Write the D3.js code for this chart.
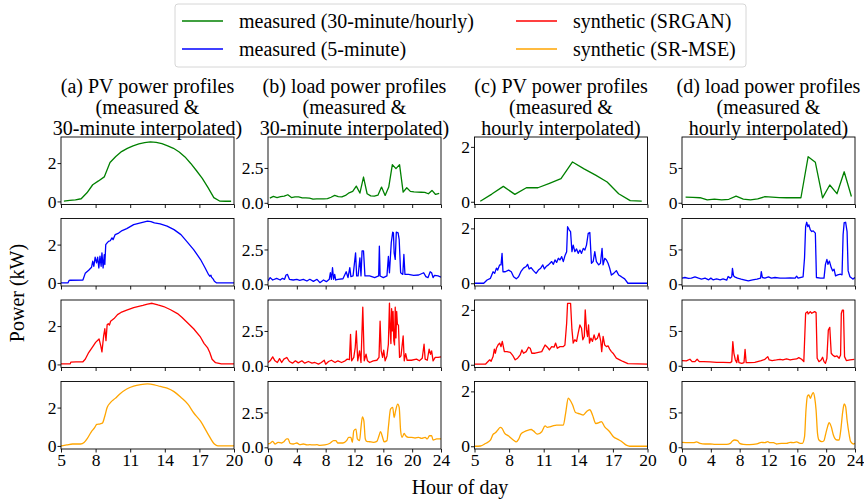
<!DOCTYPE html>
<html><head><meta charset="utf-8">
<script src="https://cdn.jsdelivr.net/npm/d3@7"></script>
<style>
body{margin:0;background:#fff}
svg{display:block}
text{font-family:"Liberation Serif","Times New Roman",serif;fill:#000}
</style>
</head><body>
<svg id="c" width="864" height="499"></svg>
<script>
// ---------- DATA ([hour, kW]) ----------
const legendLabels = ["measured (30-minute/hourly)", "measured (5-minute)", "synthetic (SRGAN)", "synthetic (SR-MSE)"];
const seriesColors = ["#008000", "#0000ff", "#ff0000", "#ffa500"];
const columnTitles = [
  ["(a) PV power profiles", "(measured &", "30-minute interpolated)"],
  ["(b) load power profiles", "(measured &", "30-minute interpolated)"],
  ["(c) PV power profiles", "(measured &", "hourly interpolated)"],
  ["(d) load power profiles", "(measured &", "hourly interpolated)"]
];
const pvHourTicks = [5, 8, 11, 14, 17, 20];
const loadHourTicks = [0, 4, 8, 12, 16, 20, 24];
const pvATicksY = [0, 2];
const loadBTicksY = [0, 2.5];
const pvCTicksY = [0, 2];
const loadDTicksY = [0, 5];

// (a) PV, 30-minute
const pvA_meas30 = [[5.25,0.02],[5.75,0.05],[6.25,0.08],[6.75,0.14],[7.25,0.45],[7.75,0.87],[8.25,1.07],[8.75,1.28],[9.25,2.03],[9.75,2.34],[10.25,2.6],[10.75,2.77],[11.25,2.9],[11.75,3.0],[12.25,3.07],[12.75,3.11],[13.25,3.08],[13.75,3.01],[14.25,2.9],[14.75,2.77],[15.25,2.58],[15.75,2.32],[16.25,1.98],[16.75,1.6],[17.25,1.2],[17.75,0.72],[18.25,0.2],[18.75,0.02],[19.25,0.01],[19.75,0.01]];
const pvA_meas5 = [[5,0],[5.6,0],[5.7,0.13],[5.8,0.14],[6.9,0.15],[7.1,0.5],[7.4,0.66],[7.65,0.82],[7.75,1.13],[7.85,0.87],[7.96,1.34],[8.08,1.05],[8.18,1.34],[8.28,0.78],[8.38,1.4],[8.48,0.87],[8.55,1.57],[8.65,0.78],[8.75,1.47],[8.8,0.96],[8.88,2.0],[9.0,2.09],[9.12,2.17],[9.27,2.2],[9.42,2.35],[9.52,2.26],[9.7,2.52],[10.0,2.6],[10.3,2.73],[10.7,2.83],[11.3,3.04],[11.9,3.13],[12.5,3.22],[12.8,3.2],[13.1,3.13],[13.6,3.08],[14.2,2.96],[14.8,2.78],[15.4,2.52],[15.9,2.17],[16.5,1.74],[17.1,1.22],[17.5,0.78],[17.8,0.43],[17.9,0.35],[18.0,0.4],[18.05,0.3],[18.2,0.2],[18.3,0.09],[18.5,0],[20,0]];
const pvA_srgan = [[5,0.03],[5.8,0.03],[5.85,0.12],[6.3,0.13],[6.9,0.14],[7.1,0.27],[7.4,0.62],[7.8,0.97],[8.0,1.15],[8.3,1.33],[8.45,0.97],[8.55,0.65],[8.7,1.5],[8.8,1.86],[8.9,1.24],[9.0,2.07],[9.1,2.12],[9.2,2.05],[9.3,2.25],[9.6,2.39],[9.9,2.6],[10.2,2.71],[10.7,2.83],[11.3,2.96],[12.1,3.08],[12.5,3.15],[12.9,3.19],[13.4,3.1],[13.9,3.02],[14.5,2.85],[15.1,2.65],[15.5,2.45],[15.9,2.21],[16.5,1.86],[17.1,1.42],[17.4,1.1],[17.7,0.88],[17.9,0.62],[18.1,0.27],[18.4,0.09],[18.9,0.03],[20,0.03]];
const pvA_srmse = [[5,0],[5.5,0.05],[6,0.1],[6.7,0.1],[7,0.18],[7.3,0.41],[7.6,0.71],[7.9,0.94],[8.1,1.12],[8.4,1.15],[8.6,1.2],[8.8,1.56],[9.0,2.0],[9.3,2.27],[9.7,2.48],[10.1,2.71],[10.7,2.97],[11.3,3.12],[11.9,3.2],[12.5,3.24],[13.1,3.19],[13.6,3.1],[14.2,3.01],[14.8,2.83],[15.4,2.53],[16.0,2.18],[16.5,1.73],[17.1,1.29],[17.7,0.67],[18.3,0.1],[18.6,0],[20,0]];

// (b) load, 30-minute
const loadB_meas30 = [[0.25,0.34],[0.75,0.46],[1.25,0.38],[1.75,0.44],[2.25,0.48],[2.75,0.58],[3.25,0.38],[3.75,0.42],[4.25,0.43],[4.75,0.36],[5.25,0.35],[5.75,0.33],[6.25,0.26],[6.75,0.29],[7.25,0.28],[7.75,0.29],[8.25,0.3],[8.75,0.4],[9.25,0.53],[9.75,0.45],[10.25,0.42],[10.75,0.53],[11.25,0.72],[11.75,0.82],[12.25,1.2],[12.75,0.7],[13.25,1.85],[13.75,0.65],[14.25,0.5],[14.75,0.48],[15.25,0.55],[15.75,1.13],[16.25,0.53],[16.75,1.13],[17.25,2.74],[17.75,2.45],[18.25,2.74],[18.75,0.77],[19.25,1.08],[19.75,0.82],[20.25,0.78],[20.75,0.77],[21.25,0.76],[21.75,0.75],[22.25,0.65],[22.75,0.89],[23.25,0.6],[23.75,0.67]];
const loadB_meas5 = [[0,0.24],[0.3,0.48],[0.65,0.31],[1.2,0.43],[1.7,0.31],[2.0,0.43],[2.3,0.36],[2.5,0.67],[2.7,0.71],[2.97,0.36],[3.5,0.31],[4.0,0.36],[4.4,0.29],[4.9,0.36],[5.4,0.24],[5.8,0.36],[6.3,0.21],[6.8,0.36],[7.2,0.12],[7.7,0.31],[8.1,0.19],[8.5,0.36],[8.65,0.83],[8.8,0.36],[8.95,1.19],[9.1,0.36],[9.25,0.71],[9.4,0.31],[9.7,0.36],[10.4,0.4],[10.85,0.9],[11.1,0.48],[11.35,1.19],[11.5,0.55],[11.8,0.6],[12.15,2.26],[12.3,0.6],[12.5,0.6],[12.75,1.9],[12.9,0.6],[13.05,2.4],[13.25,2.4],[13.45,0.6],[14.1,0.6],[14.8,0.48],[15.35,0.6],[15.45,2.74],[15.55,0.6],[16.0,0.48],[16.5,0.6],[16.7,2.0],[16.85,0.83],[17.1,2.98],[17.3,3.74],[17.4,3.7],[17.5,2.26],[17.65,1.79],[17.8,3.74],[18.05,3.69],[18.2,3.2],[18.4,0.83],[18.7,0.71],[18.85,2.14],[19.0,0.71],[19.5,0.71],[20.2,0.64],[20.9,0.67],[21.6,0.83],[21.9,0.55],[22.2,0.48],[22.5,0.9],[22.7,0.83],[22.9,0.48],[23.1,0.64],[23.6,0.6],[24,0.52]];
const loadB_srgan = [[0,0.24],[0.3,0.36],[0.65,0.64],[0.97,0.36],[1.3,0.24],[1.6,0.52],[1.9,0.24],[2.2,0.48],[2.6,0.6],[2.97,0.31],[3.4,0.19],[3.8,0.36],[4.2,0.21],[4.7,0.36],[5.1,0.19],[5.6,0.31],[6.1,0.19],[6.5,0.24],[7.0,0.12],[7.4,0.24],[7.8,0.4],[8.0,0.12],[8.4,0.31],[8.8,0.4],[9.3,0.24],[9.7,0.36],[10.2,0.24],[10.7,0.36],[11.0,0.48],[11.3,0.45],[11.45,2.26],[11.6,0.36],[11.9,0.6],[12.1,1.31],[12.25,2.5],[12.45,0.36],[12.7,1.07],[12.9,0.24],[13.15,4.2],[13.35,0.36],[13.6,0.83],[13.8,0.36],[14.1,0.24],[14.6,0.36],[15.1,0.4],[15.4,0.6],[15.55,3.2],[15.7,1.07],[15.9,0.6],[16.05,1.12],[16.25,0.36],[16.5,0.71],[16.7,1.55],[16.85,4.5],[16.95,2.6],[17.05,1.6],[17.15,4.1],[17.25,2.5],[17.35,3.9],[17.45,1.8],[17.55,1.5],[17.65,4.2],[17.75,2.0],[17.85,3.9],[17.95,3.0],[18.1,2.9],[18.25,0.6],[18.45,0.71],[18.75,2.14],[18.9,0.36],[19.1,0.88],[19.3,0.4],[19.9,0.4],[20.6,0.48],[21.0,0.36],[21.4,0.55],[21.65,1.55],[21.8,0.48],[22.1,0.4],[22.35,1.19],[22.55,0.83],[22.7,1.07],[22.9,0.36],[23.2,0.6],[23.6,0.6],[24,0.64]];
const loadB_srmse = [[0,0.24],[0.3,0.29],[0.65,0.43],[0.97,0.24],[1.4,0.36],[1.9,0.31],[2.2,0.4],[2.6,0.6],[2.8,0.6],[3.05,0.29],[3.5,0.24],[4.0,0.31],[4.4,0.19],[4.9,0.24],[5.4,0.17],[5.8,0.19],[6.3,0.17],[6.8,0.19],[7.2,0.14],[7.9,0.17],[8.6,0.29],[9.1,0.48],[9.4,0.48],[9.7,0.31],[10.4,0.31],[10.9,0.48],[11.2,0.71],[11.5,0.71],[11.7,0.36],[11.9,1.19],[12.2,1.31],[12.4,0.6],[12.7,0.48],[12.9,1.43],[13.1,2.19],[13.3,1.9],[13.5,0.6],[13.7,0.43],[14.1,0.4],[14.6,0.36],[15.1,0.43],[15.4,0.83],[15.6,1.12],[15.9,0.71],[16.1,0.4],[16.5,0.48],[16.7,1.43],[17.0,2.74],[17.3,2.86],[17.5,2.14],[17.7,2.62],[18.0,3.1],[18.2,2.86],[18.4,1.19],[18.6,0.71],[18.9,1.0],[19.1,0.83],[19.5,0.71],[19.9,0.71],[20.4,0.67],[20.9,0.71],[21.3,0.64],[21.8,0.71],[22.1,0.6],[22.4,0.83],[22.7,0.83],[22.9,0.52],[23.4,0.6],[24,0.6]];

// (c) PV, hourly
const pvC_measH = [[5.5,0.02],[6.5,0.28],[7.5,0.56],[8.5,0.27],[9.5,0.51],[10.5,0.51],[11.5,0.67],[12.5,0.84],[13.5,1.45],[14.5,1.2],[15.5,0.97],[16.5,0.72],[17.5,0.29],[18.5,0.04],[19.5,0.02]];
const pvC_meas5 = [[5,0],[5.8,0],[6.09,0.12],[6.38,0.18],[6.61,0.42],[6.75,0.36],[6.9,0.55],[7.01,0.48],[7.18,0.67],[7.3,0.67],[7.39,1.09],[7.47,0.42],[7.67,0.42],[7.96,0.48],[8.19,0.42],[8.39,0.24],[8.62,0.16],[8.82,0.24],[9.02,0.42],[9.25,0.55],[9.48,0.61],[9.6,0.69],[9.74,0.52],[9.91,0.57],[10.11,0.46],[10.34,0.36],[10.54,0.48],[10.74,0.55],[10.92,0.67],[11.06,0.52],[11.21,0.61],[11.41,0.67],[11.55,0.73],[11.69,0.79],[11.84,0.69],[11.98,0.85],[12.12,0.76],[12.27,0.91],[12.41,0.85],[12.56,0.97],[12.7,0.79],[12.84,1.0],[12.99,1.15],[13.07,2.06],[13.22,1.94],[13.33,1.88],[13.45,1.15],[13.56,1.39],[13.7,1.15],[13.85,1.25],[13.99,1.09],[14.14,1.21],[14.28,1.09],[14.43,1.27],[14.57,1.21],[14.71,1.39],[14.86,1.82],[15.0,1.85],[15.14,0.73],[15.29,0.79],[15.43,1.15],[15.57,0.79],[15.77,0.67],[15.92,0.73],[16.06,1.27],[16.15,0.67],[16.29,0.91],[16.44,0.85],[16.58,0.73],[16.72,0.55],[16.87,0.3],[17.07,0.36],[17.3,0.46],[17.5,0.3],[17.73,0.24],[18.02,0.16],[18.3,0],[20,0]];
const pvC_srgan = [[5,0.02],[5.95,0.02],[6.09,0.08],[6.32,0.18],[6.44,0.13],[6.61,0.3],[6.72,0.57],[6.81,0.42],[6.9,0.6],[7.04,0.72],[7.18,0.79],[7.3,0.66],[7.41,0.85],[7.59,0.48],[7.82,0.48],[8.1,0.45],[8.33,0.33],[8.53,0.18],[8.74,0.24],[8.97,0.36],[9.11,0.54],[9.25,0.42],[9.48,0.48],[9.68,0.64],[9.83,0.6],[9.97,0.42],[10.25,0.42],[10.54,0.45],[10.83,0.48],[11.12,0.72],[11.32,0.64],[11.49,0.54],[11.69,0.66],[11.9,0.64],[12.03,0.79],[12.18,0.6],[12.41,0.66],[12.7,0.66],[12.84,0.72],[12.99,1.51],[13.07,2.24],[13.33,2.24],[13.45,1.27],[13.56,0.79],[13.7,0.91],[13.85,0.85],[13.99,1.15],[14.14,1.45],[14.28,1.33],[14.39,0.91],[14.52,1.03],[14.6,2.0],[14.71,1.27],[14.8,1.03],[14.89,1.45],[14.97,0.79],[15.09,0.97],[15.23,0.85],[15.37,1.09],[15.49,0.91],[15.66,0.97],[15.8,1.15],[15.95,0.85],[16.03,0.48],[16.15,1.03],[16.29,0.72],[16.44,0.66],[16.58,0.69],[16.72,0.57],[16.87,0.48],[17.01,0.42],[17.3,0.24],[17.59,0.18],[17.87,0.12],[18.3,0.04],[20,0.02]];
const pvC_srmse = [[5,0],[5.52,0.01],[5.95,0.1],[6.38,0.22],[6.61,0.43],[6.81,0.49],[7.01,0.59],[7.24,0.69],[7.39,0.65],[7.59,0.49],[7.96,0.37],[8.39,0.22],[8.62,0.16],[8.82,0.25],[9.02,0.44],[9.31,0.53],[9.68,0.59],[9.91,0.61],[10.11,0.56],[10.45,0.44],[10.83,0.53],[11.12,0.74],[11.32,0.69],[11.55,0.71],[11.78,0.74],[12.12,0.77],[12.41,0.77],[12.7,0.77],[12.9,1.2],[13.13,1.75],[13.27,1.69],[13.5,1.51],[13.76,1.23],[14.14,1.18],[14.43,1.14],[14.71,1.26],[15.0,1.33],[15.23,1.14],[15.52,0.83],[15.8,0.86],[16.0,0.9],[16.29,0.71],[16.72,0.53],[17.07,0.34],[17.44,0.25],[17.73,0.18],[18.16,0.04],[18.45,0],[20,0]];

// (d) load, hourly
const loadD_measH = [[0.5,0.82],[1.5,0.78],[2.5,0.72],[3.5,0.4],[4.5,0.53],[5.5,0.4],[6.5,0.5],[7.5,0.96],[8.5,0.53],[9.5,0.4],[10.5,0.55],[11.5,0.87],[12.5,0.8],[13.5,0.75],[14.5,0.72],[15.5,0.72],[16.5,0.72],[17.5,6.62],[18.5,5.8],[19.5,0.7],[20.5,2.55],[21.5,1.3],[22.5,4.45],[23.5,0.9]];
const loadD_meas5 = [[0,0.88],[0.4,0.97],[0.9,0.83],[1.3,0.88],[1.8,1.07],[2.3,0.88],[2.7,0.74],[3.2,0.88],[3.7,0.64],[4.0,0.88],[4.3,0.64],[4.8,0.78],[5.3,0.64],[5.7,0.78],[6.2,0.59],[6.4,1.11],[6.7,0.88],[6.9,1.07],[7.0,2.29],[7.15,1.21],[7.3,1.07],[7.7,0.88],[8.2,0.74],[8.6,0.64],[9.2,0.5],[9.8,0.64],[10.4,0.74],[10.9,0.88],[11.0,1.82],[11.15,0.97],[11.5,0.88],[12.0,1.07],[12.4,0.88],[12.9,0.97],[13.6,0.88],[14.3,0.88],[15.0,0.92],[15.7,0.88],[15.9,1.16],[16.1,0.88],[16.8,1.07],[17.0,3.8],[17.15,8.28],[17.3,8.9],[17.45,8.28],[17.6,8.52],[17.8,7.81],[18.0,7.57],[18.2,7.67],[18.5,7.34],[18.65,0.97],[19.2,0.88],[19.7,0.88],[19.9,2.86],[20.1,3.57],[20.25,2.86],[20.45,3.33],[20.7,2.39],[20.9,1.92],[21.1,2.15],[21.3,1.21],[21.6,1.35],[22.0,1.44],[22.2,1.35],[22.35,7.1],[22.5,8.85],[22.7,8.9],[22.9,7.57],[23.05,1.92],[23.3,1.07],[23.7,0.74],[24,0.97]];
const loadD_srgan = [[0,0.74],[0.6,0.69],[1.1,0.93],[1.4,0.59],[1.8,0.6],[2.1,0.93],[2.4,0.59],[3.0,0.59],[3.9,0.55],[4.8,0.5],[5.7,0.5],[6.7,0.45],[6.9,0.59],[7.05,3.46],[7.2,1.79],[7.4,0.83],[7.6,0.45],[7.75,1.55],[7.9,0.45],[8.3,0.35],[8.6,0.45],[8.75,2.36],[8.9,0.45],[9.4,0.45],[10.1,0.5],[11.0,0.74],[11.5,0.93],[11.9,1.31],[12.1,0.83],[12.5,0.74],[13.1,0.83],[13.6,0.93],[14.0,0.83],[14.5,0.98],[15.0,0.83],[15.4,0.93],[15.9,0.98],[16.2,1.17],[16.6,0.93],[16.9,0.59],[17.15,7.53],[17.4,7.77],[17.5,7.44],[17.8,7.77],[18.0,7.53],[18.4,7.77],[18.6,7.63],[18.75,1.07],[19.0,0.59],[19.3,0.83],[19.5,1.22],[19.7,0.59],[19.9,0.35],[20.1,1.07],[20.3,5.14],[20.5,5.52],[20.7,1.79],[20.9,1.55],[21.2,1.31],[21.5,1.41],[21.8,1.07],[22.0,1.55],[22.1,7.5],[22.25,8.0],[22.4,8.0],[22.55,1.31],[22.8,0.74],[23.3,0.83],[23.9,0.93]];
const loadD_srmse = [[0,0.71],[0.9,0.66],[1.6,0.66],[2.0,0.76],[2.5,0.56],[3.2,0.47],[3.9,0.47],[4.6,0.42],[5.5,0.42],[6.2,0.42],[6.7,0.56],[7.0,0.9],[7.3,1.04],[7.7,0.95],[8.0,0.56],[8.5,0.42],[9.4,0.37],[10.4,0.47],[11.0,0.71],[11.5,0.66],[11.9,0.8],[12.2,0.66],[12.7,0.66],[13.1,0.47],[13.8,0.56],[14.5,0.56],[15.0,0.71],[15.4,0.66],[15.9,0.76],[16.4,0.56],[16.7,0.56],[17.0,1.52],[17.2,5.35],[17.4,7.35],[17.6,7.5],[17.8,7.02],[18.0,7.5],[18.2,7.84],[18.4,7.17],[18.6,5.35],[18.8,2.0],[19.0,1.04],[19.4,0.8],[19.7,0.95],[19.9,1.76],[20.2,2.96],[20.4,3.53],[20.7,2.96],[21.0,1.76],[21.2,1.28],[21.5,1.04],[21.8,1.04],[22.0,2.24],[22.3,5.11],[22.5,6.21],[22.7,5.83],[22.9,3.91],[23.2,1.76],[23.4,0.8],[23.8,0.47],[24.0,0.56]];

// ---------- CONFIG ----------
const columns = [
  {series:[pvA_meas30, pvA_meas5, pvA_srgan, pvA_srmse], xDomain:[5,20], xTicks:pvHourTicks, yDomain:[-0.16,3.36], yTicks:pvATicksY, yFmt:d3.format("d")},
  {series:[loadB_meas30, loadB_meas5, loadB_srgan, loadB_srmse], xDomain:[0,24], xTicks:loadHourTicks, yDomain:[-0.12,4.72], yTicks:loadBTicksY, yFmt:d3.format(".1f")},
  {series:[pvC_measH, pvC_meas5, pvC_srgan, pvC_srmse], xDomain:[5,20], xTicks:pvHourTicks, yDomain:[-0.1,2.36], yTicks:pvCTicksY, yFmt:d3.format("d")},
  {series:[loadD_measH, loadD_meas5, loadD_srgan, loadD_srmse], xDomain:[0,24], xTicks:loadHourTicks, yDomain:[-0.25,9.44], yTicks:loadDTicksY, yFmt:d3.format("d")}
];

const svg = d3.select("#c");
const FONT = '"Liberation Serif","Times New Roman",serif';
const colLeft = [61, 268, 474.5, 682], panelW = 173;
const rowTop = [137, 218.5, 300, 381.5], panelH = 67.5;

const defs = svg.append("defs");

columns.forEach((col, ci) => {
  const x = d3.scaleLinear().domain(col.xDomain).range([colLeft[ci], colLeft[ci] + panelW]);
  const cx = colLeft[ci] + panelW / 2;
  // title
  const t = svg.append("text").attr("text-anchor", "middle").attr("font-size", 20);
  columnTitles[ci].forEach((line, li) => {
    t.append("tspan").attr("x", cx).attr("y", 93 + li * 21).text(line);
  });

  col.series.forEach((data, ri) => {
    const y = d3.scaleLinear().domain(col.yDomain).range([rowTop[ri] + panelH, rowTop[ri]]);
    const id = `clip${ci}_${ri}`;
    defs.append("clipPath").attr("id", id).append("rect")
      .attr("x", colLeft[ci]).attr("y", rowTop[ri]).attr("width", panelW).attr("height", panelH);
    const g = svg.append("g");
    const line = d3.line().x(d => x(d[0])).y(d => y(d[1]))
      .curve(ri === 3 ? d3.curveMonotoneX : d3.curveLinear);
    g.append("path").datum(data)
      .attr("clip-path", `url(#${id})`)
      .attr("d", line).attr("fill", "none")
      .attr("stroke", seriesColors[ri]).attr("stroke-width", 1.3)
      .attr("stroke-linejoin", "round");
    // frame
    g.append("rect").attr("x", colLeft[ci]).attr("y", rowTop[ri])
      .attr("width", panelW).attr("height", panelH)
      .attr("fill", "none").attr("stroke", "#000").attr("stroke-width", 0.9);
    // x axis
    const xa = d3.axisBottom(x).tickValues(col.xTicks).tickSize(3.5).tickPadding(1.5)
      .tickFormat(ri === 3 ? d3.format("d") : () => "");
    g.append("g").attr("transform", `translate(0,${rowTop[ri] + panelH})`).call(xa)
      .call(a => a.select(".domain").remove())
      .call(a => a.selectAll("line").attr("stroke", "#000").attr("stroke-width", 0.9))
      .call(a => a.selectAll("text").attr("font-family", FONT).attr("font-size", 17.5).attr("fill", "#000"));
    // y axis
    const ya = d3.axisLeft(y).tickValues(col.yTicks).tickSize(3.5).tickPadding(1)
      .tickFormat(col.yFmt);
    g.append("g").attr("transform", `translate(${colLeft[ci]},0)`).call(ya)
      .call(a => a.select(".domain").remove())
      .call(a => a.selectAll("line").attr("stroke", "#000").attr("stroke-width", 0.9))
      .call(a => a.selectAll("text").attr("font-family", FONT).attr("font-size", 17.5).attr("fill", "#000"));
  });
});

// axis labels
svg.append("text").attr("transform", "translate(24,293) rotate(-90)")
  .attr("text-anchor", "middle").attr("font-size", 20).text("Power (kW)");
svg.append("text").attr("x", 460).attr("y", 494)
  .attr("text-anchor", "middle").attr("font-size", 20).text("Hour of day");

// legend
const lg = svg.append("g");
lg.append("rect").attr("x", 175).attr("y", 4).attr("width", 571).attr("height", 63).attr("rx", 3)
  .attr("fill", "#fff").attr("stroke", "#d6d6d6").attr("stroke-width", 1);
const legendPos = [[182, 21], [182, 49], [516, 21], [516, 49]];
legendLabels.forEach((lab, i) => {
  const [lx, ly] = legendPos[i];
  lg.append("line").attr("x1", lx).attr("x2", lx + 41).attr("y1", ly).attr("y2", ly)
    .attr("stroke", seriesColors[i]).attr("stroke-width", 1.5);
  lg.append("text").attr("x", lx + 57).attr("y", ly).attr("dy", "0.33em")
    .attr("font-size", 20).text(lab);
});
</script>
</body></html>
